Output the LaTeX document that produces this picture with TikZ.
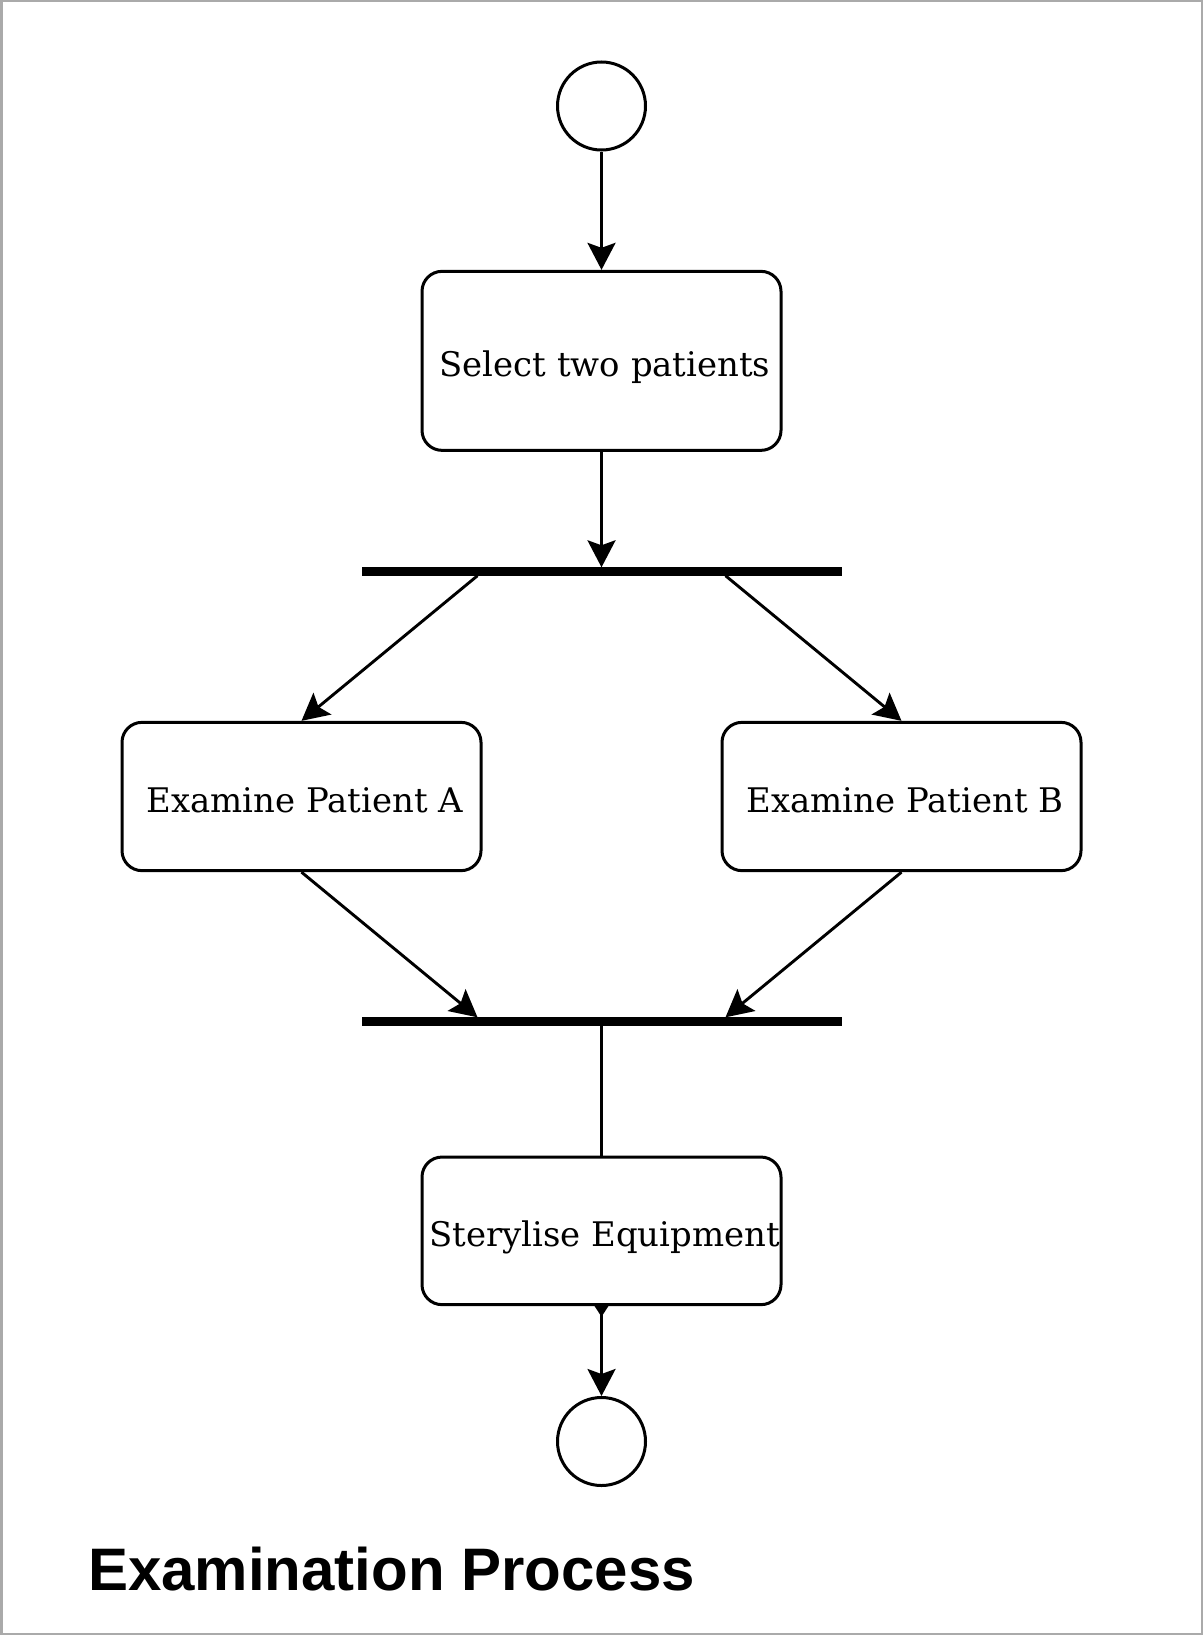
\documentclass[tikz,border=0pt]{standalone}
\usepackage{fontspec}
\setmainfont{DejaVu Serif}
\newfontfamily\titlefont{Liberation Sans}
\usetikzlibrary{arrows.meta,calc}
\definecolor{framegray}{RGB}{170,170,170}
\begin{document}
\begin{tikzpicture}[x=1pt,y=-1pt,
  act/.style={draw, line width=3pt, rounded corners=20pt, minimum width=359pt,
    inner sep=0pt, text height=32pt, text depth=0pt,
    font=\fontsize{33.9}{40}\selectfont},
  state/.style={draw, circle, line width=3pt, minimum size=88pt, inner sep=0pt},
  bar/.style={fill=black, minimum width=480pt, minimum height=8.4pt, inner sep=0pt, outer sep=0pt},
  tipstyle/.style={line width=2.9pt},
  flow/.style={tipstyle, -{Stealth[length=27pt, width=28pt, inset=5pt]}},
  plainline/.style={tipstyle}
]
\useasboundingbox (0,0) rectangle (1203,1635);
\draw[framegray, line width=2.5pt] (1.25,1.25) rectangle (1201.75,1633.75);

\node[state] (start) at (601.5,106) {};
\node[act, minimum height=179pt] (sel) at (601.5,360.85) {\hspace*{7pt}Select two patients};
\node[bar] (fork) at (601.5,571.5) {};
\node[act, minimum height=148.3pt] (exa) at (301.5,796.5) {\hspace*{7pt}Examine Patient A};
\node[act, minimum height=148.3pt] (exb) at (901.5,796.5) {\hspace*{7pt}Examine Patient B};
\node[bar] (join) at (601.5,1021.5) {};
\node[act, minimum height=147.6pt] (ster) at (601.5,1230.85) {\hspace*{6pt}Sterylise Equipment};
\node[state] (end) at (601.5,1441.5) {};
\node[anchor=base west, inner sep=0pt, font=\titlefont\bfseries\fontsize{60}{70}\selectfont] (title) at (88,1590) {Examination Process};

\coordinate (fl) at ([xshift=-124pt]fork.south);
\coordinate (fr) at ([xshift=124pt]fork.south);
\coordinate (jl) at ([xshift=-124pt]join.north);
\coordinate (jr) at ([xshift=124pt]join.north);

\draw[flow] (start) -- (sel);
\draw[flow] (sel.south) -- (fork.north);
\draw[flow] (fl) -- (exa.north);
\draw[flow] (fr) -- (exb.north);
\draw[flow] (exa.south) -- (jl);
\draw[flow] (exb.south) -- (jr);
\draw[plainline] (join.south) -- (ster.north);
\draw[tipstyle, {Triangle[reversed, length=10.7pt, width=13pt]}-{Stealth[length=27pt, width=28pt, inset=5pt]}] (ster.south) -- (end.north);
\end{tikzpicture}
\end{document}
